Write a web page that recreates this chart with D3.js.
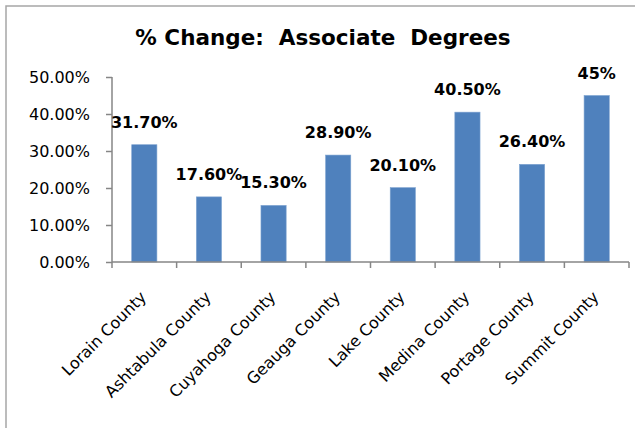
<!DOCTYPE html>
<html>
<head>
<meta charset="utf-8">
<script src="https://cdn.jsdelivr.net/npm/d3@7"></script>
<style>
  body { margin: 0; background: #fff; }
  svg { display: block; }
</style>
</head>
<body>
<div id="chart"></div>
<script>
	//////////////////////////////////////////////////////
	/////////////////////// Data /////////////////////////
	//////////////////////////////////////////////////////

	var counties = ["Lorain County", "Ashtabula County", "Cuyahoga County", "Geauga County",
					"Lake County", "Medina County", "Portage County", "Summit County"];
	var changeValues = [0.317, 0.176, 0.153, 0.289, 0.201, 0.405, 0.264, 0.45];
	var valueLabels = ["31.70%", "17.60%", "15.30%", "28.90%", "20.10%", "40.50%", "26.40%", "45%"];
	var yTicks = [0, 0.1, 0.2, 0.3, 0.4, 0.5];

	var width = 635,
		height = 428;

	var svg = d3.select("#chart").append("svg")
		.attr("width", width)
		.attr("height", height);

	//Chart border (runs off the right and bottom of the picture)
	svg.append("rect")
		.attr("x", 6)
		.attr("y", 6)
		.attr("width", 660)
		.attr("height", 460)
		.style("fill", "none")
		.style("stroke", "#a6a6a6")
		.style("stroke-width", 1.5);

	//////////////////////////////////////////////////////
	/////////////////////// Scales ///////////////////////
	//////////////////////////////////////////////////////

	var x = d3.scaleBand()
		.domain(counties)
		.range([112, 629])
		.paddingInner(0.61)
		.paddingOuter(0.305);

	var y = d3.scaleLinear()
		.domain([0, 0.5])
		.range([262, 77]);

	//////////////////////////////////////////////////////
	//////////////////////// Title ///////////////////////
	//////////////////////////////////////////////////////

	svg.append("text")
		.attr("x", 323)
		.attr("y", 45)
		.style("text-anchor", "middle")
		.style("font-family", "'DejaVu Sans', sans-serif")
		.style("font-weight", "bold")
		.style("font-size", "21.5px")
		.attr("fill", "#000")
		.style("white-space", "pre")
		.text("% Change:  Associate  Degrees");

	//////////////////////////////////////////////////////
	//////////////////////// Axes ////////////////////////
	//////////////////////////////////////////////////////

	var yAxis = svg.append("g")
		.attr("transform", "translate(" + x.range()[0] + ",0)")
		.call(d3.axisLeft(y)
			.tickValues(yTicks)
			.tickSize(6)
			.tickPadding(16)
			.tickFormat(function(d) { return (d * 100).toFixed(2) + "%"; }));

	yAxis.select(".domain").remove();
	yAxis.append("line")
		.attr("y1", y(0))
		.attr("y2", y(0.5))
		.style("stroke", "#868686")
		.style("stroke-width", 1.5);
	yAxis.selectAll(".tick line").style("stroke", "#868686").style("stroke-width", 1.5);
	yAxis.selectAll(".tick text")
		.style("font-family", "'DejaVu Sans', sans-serif")
		.style("font-size", "16px")
		.attr("fill", "#000");

	//Bars
	svg.append("g").selectAll("rect")
		.data(counties)
		.enter().append("rect")
		.attr("x", function(d) { return x(d); })
		.attr("y", function(d, i) { return y(changeValues[i]); })
		.attr("width", x.bandwidth())
		.attr("height", function(d, i) { return y(0) - y(changeValues[i]); })
		.style("fill", "#4f81bd")
		.style("stroke", "#7ea3d0")
		.style("stroke-width", 0.6);

	//X axis with ticks on the category boundaries
	var xAxis = svg.append("g").attr("class", "xAxis");
	xAxis.append("line")
		.attr("x1", x.range()[0])
		.attr("x2", x.range()[1])
		.attr("y1", y(0))
		.attr("y2", y(0))
		.style("stroke", "#868686")
		.style("stroke-width", 1.5);

	var boundaries = counties.map(function(d) { return x(d) - x.step() * x.paddingInner() / 2; });
	boundaries.push(boundaries[boundaries.length - 1] + x.step());
	xAxis.selectAll(".bTick")
		.data(boundaries)
		.enter().append("line")
		.attr("x1", function(d) { return d; })
		.attr("x2", function(d) { return d; })
		.attr("y1", y(0))
		.attr("y2", y(0) + 6)
		.style("stroke", "#868686")
		.style("stroke-width", 1.5);

	//Rotated category names
	xAxis.selectAll(".catLabel")
		.data(counties)
		.enter().append("text")
		.attr("transform", function(d) {
			return "translate(" + (x(d) + x.bandwidth() / 2 + 3) + "," + (y(0) + 36) + ") rotate(-45)";
		})
		.style("text-anchor", "end")
		.style("font-family", "'DejaVu Sans', sans-serif")
		.style("font-size", "16px")
		.attr("fill", "#000")
		.text(function(d) { return d; });

	//Value labels above the bars
	svg.append("g").selectAll("text")
		.data(counties)
		.enter().append("text")
		.attr("x", function(d) { return x(d) + x.bandwidth() / 2; })
		.attr("y", function(d, i) { return y(changeValues[i]) - 17; })
		.style("text-anchor", "middle")
		.style("font-family", "'DejaVu Sans', sans-serif")
		.style("font-weight", "bold")
		.style("font-size", "16px")
		.attr("fill", "#000")
		.text(function(d, i) { return valueLabels[i]; });
</script>
</body>
</html>
